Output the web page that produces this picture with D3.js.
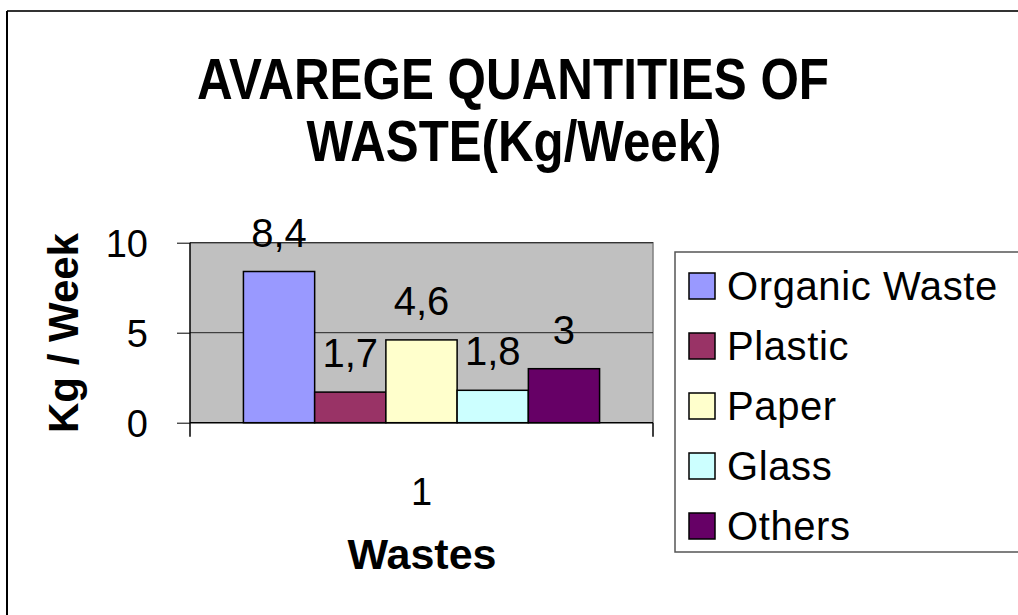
<!DOCTYPE html>
<html>
<head>
<meta charset="utf-8">
<script src="https://cdn.jsdelivr.net/npm/d3@7/dist/d3.min.js"></script>
<style>
  html, body { margin: 0; padding: 0; background: #fff; }
  svg { display: block; font-family: "Liberation Sans", Arial, sans-serif; }
</style>
</head>
<body>
<svg id="chart" width="1018" height="615"></svg>
<script>
// ---- data ----
const categories = ["1"];
const seriesNames = ["Organic Waste", "Plastic", "Paper", "Glass", "Others"];
const seriesValues = [8.4, 1.7, 4.6, 1.8, 3];
const seriesColors = ["#9999FF", "#993366", "#FFFFCC", "#CCFFFF", "#660066"];
const yTicks = [0, 5, 10];
const titleLines = ["AVAREGE QUANTITIES OF", "WASTE(Kg/Week)"];
const yAxisTitle = "Kg / Week";
const xAxisTitle = "Wastes";

const svg = d3.select("#chart");

// outer chart border (top and left visible)
svg.append("line").attr("x1", 7).attr("y1", 11).attr("x2", 1018).attr("y2", 11)
  .attr("stroke", "#333").attr("stroke-width", 2);
svg.append("line").attr("x1", 7).attr("y1", 11).attr("x2", 7).attr("y2", 615)
  .attr("stroke", "#000").attr("stroke-width", 2);

// plot geometry
const plot = { left: 190, right: 653, top: 242.7, bottom: 422.7 };

const x0 = d3.scaleBand().domain(categories).range([plot.left, plot.right]);
const x1 = d3.scaleBand().domain(seriesNames).range([0, x0.bandwidth()])
  .paddingInner(0).paddingOuter(0.75);
const y = d3.scaleLinear().domain([0, 10]).range([plot.bottom, plot.top]);

// plot background
svg.append("rect")
  .attr("x", plot.left).attr("y", plot.top)
  .attr("width", plot.right - plot.left).attr("height", plot.bottom - plot.top)
  .attr("fill", "#C0C0C0");
// plot border top/right (gray)
svg.append("path")
  .attr("d", `M${plot.left},${plot.top}H${plot.right}V${plot.bottom}`)
  .attr("fill", "none").attr("stroke", "#808080").attr("stroke-width", 1.5);

// gridlines
svg.append("g").selectAll("line")
  .data(yTicks.filter(d => d > 0))
  .join("line")
  .attr("x1", plot.left).attr("x2", plot.right)
  .attr("y1", d => y(d)).attr("y2", d => y(d))
  .attr("stroke", "#222").attr("stroke-width", 1);

// y axis
const yAxis = d3.axisLeft(y).tickValues(yTicks).tickSize(13).tickPadding(29)
  .tickFormat(d3.format("d"));
const gy = svg.append("g").attr("transform", `translate(${plot.left},0)`).call(yAxis);
gy.select(".domain").remove();
gy.selectAll(".tick line").attr("stroke", "#000").attr("stroke-width", 1);
gy.selectAll(".tick text").attr("font-size", 38).attr("fill", "#000")
  .attr("font-family", "Liberation Sans, Arial, sans-serif").attr("dy", "0.36em");
svg.append("line").attr("x1", plot.left).attr("x2", plot.left)
  .attr("y1", plot.top).attr("y2", plot.bottom + 14)
  .attr("stroke", "#000").attr("stroke-width", 1.5);

// x axis
const xAxis = d3.axisBottom(x0).tickSize(0).tickPadding(55);
const gx = svg.append("g").attr("transform", `translate(0,${plot.bottom})`).call(xAxis);
gx.select(".domain").remove();
gx.selectAll(".tick text").attr("font-size", 38).attr("fill", "#000")
  .attr("font-family", "Liberation Sans, Arial, sans-serif");
svg.append("line").attr("x1", plot.left).attr("x2", plot.right)
  .attr("y1", plot.bottom).attr("y2", plot.bottom)
  .attr("stroke", "#000").attr("stroke-width", 1.5);
svg.append("line").attr("x1", plot.right).attr("x2", plot.right)
  .attr("y1", plot.bottom).attr("y2", plot.bottom + 14)
  .attr("stroke", "#000").attr("stroke-width", 1.5);

// bars
const data = seriesNames.map((n, i) => ({ name: n, value: seriesValues[i], color: seriesColors[i] }));
const gBars = svg.append("g").attr("transform", `translate(${x0(categories[0])},0)`);
gBars.selectAll("rect")
  .data(data)
  .join("rect")
  .attr("x", d => x1(d.name))
  .attr("y", d => y(d.value))
  .attr("width", x1.bandwidth())
  .attr("height", d => y(0) - y(d.value))
  .attr("fill", d => d.color)
  .attr("stroke", "#000").attr("stroke-width", 1.5);

// value labels
const fmt = d3.formatLocale({ decimal: ",", thousands: ".", grouping: [3], currency: ["", ""] }).format("~g");
gBars.selectAll("text.val")
  .data(data)
  .join("text")
  .attr("class", "val")
  .attr("x", d => x1(d.name) + x1.bandwidth() / 2)
  .attr("y", d => y(d.value) - 25)
  .attr("text-anchor", "middle")
  .attr("font-size", 40)
  .attr("fill", "#000")
  .text(d => fmt(d.value));

// title
const title = svg.append("text").attr("text-anchor", "middle")
  .attr("font-weight", "bold").attr("font-size", 57).attr("fill", "#000");
title.append("tspan").attr("x", 513).attr("y", 99)
  .attr("textLength", 632).attr("lengthAdjust", "spacingAndGlyphs").text(titleLines[0]);
title.append("tspan").attr("x", 514).attr("y", 161)
  .attr("textLength", 415).attr("lengthAdjust", "spacingAndGlyphs").text(titleLines[1]);

// axis titles
svg.append("text")
  .attr("transform", "translate(78,333) rotate(-90)")
  .attr("text-anchor", "middle").attr("font-weight", "bold")
  .attr("font-size", 42).attr("fill", "#000").text(yAxisTitle);
svg.append("text")
  .attr("x", 422).attr("y", 569)
  .attr("text-anchor", "middle").attr("font-weight", "bold")
  .attr("font-size", 43).attr("fill", "#000").text(xAxisTitle);

// legend
const legend = svg.append("g");
legend.append("rect")
  .attr("x", 675).attr("y", 252).attr("width", 360).attr("height", 300)
  .attr("fill", "#fff").attr("stroke", "#555").attr("stroke-width", 1.5);
const rows = legend.selectAll("g.row").data(data).join("g")
  .attr("class", "row")
  .attr("transform", (d, i) => `translate(0,${286 + i * 60})`);
rows.append("rect")
  .attr("x", 689).attr("y", -13).attr("width", 26).attr("height", 26)
  .attr("fill", d => d.color).attr("stroke", "#000").attr("stroke-width", 1.5);
rows.append("text")
  .attr("x", 727).attr("y", 14)
  .attr("font-size", 40).attr("letter-spacing", 0.6).attr("fill", "#000")
  .text(d => d.name);
</script>
</body>
</html>
